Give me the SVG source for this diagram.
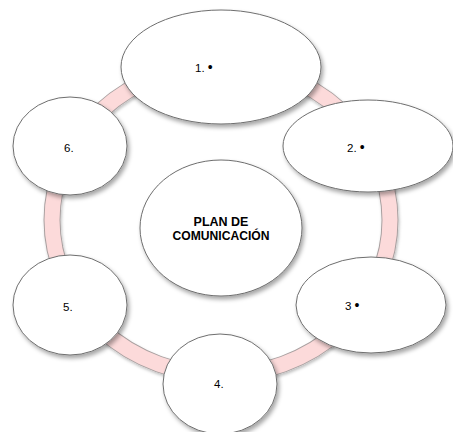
<svg xmlns="http://www.w3.org/2000/svg" width="453" height="432" viewBox="0 0 453 432">
  <defs>
    <filter id="shadow" x="-20%" y="-20%" width="150%" height="150%">
      <feDropShadow dx="2" dy="3" stdDeviation="2" flood-color="#000" flood-opacity="0.35"/>
    </filter>
    <filter id="ringShadow" x="-10%" y="-10%" width="130%" height="130%">
      <feDropShadow dx="1" dy="2" stdDeviation="1.5" flood-color="#000" flood-opacity="0.25"/>
    </filter>
  </defs>
  <style>
    .node { fill: #ffffff; stroke: #6e6e6e; stroke-width: 1; filter: url(#shadow); }
    .label { font-family: "Liberation Sans", Arial, sans-serif; font-size: 11.5px; fill: #000000; }
    .dot { font-size: 14px; }
    .title { font-family: "Liberation Sans", Arial, sans-serif; font-size: 12.5px; font-weight: bold; fill: #000000; text-anchor: middle; }
    .ring-edge { fill: none; stroke: #a9a0a0; stroke-width: 17; }
    .ring-fill { fill: none; stroke: #fcdada; stroke-width: 15; }
  </style>
  <rect width="453" height="432" fill="#ffffff"/>

  <!-- connecting ring behind the outer nodes -->
  <g id="connectors" filter="url(#ringShadow)">
    <ellipse class="ring-edge" cx="221" cy="220" rx="169" ry="155"/>
    <ellipse class="ring-fill" cx="221" cy="220" rx="169" ry="155"/>
  </g>

  <g id="center">
    <ellipse class="node" cx="221" cy="228" rx="81" ry="68"/>
    <text class="title" x="221" y="226">PLAN DE</text>
    <text class="title" x="221" y="240" textLength="97" lengthAdjust="spacingAndGlyphs">COMUNICACIÓN</text>
  </g>

  <g id="node1">
    <ellipse class="node" cx="221" cy="67" rx="100" ry="57"/>
    <text class="label" x="195" y="72">1. <tspan class="dot">•</tspan></text>
  </g>

  <g id="node2">
    <ellipse class="node" cx="368" cy="146" rx="85" ry="46"/>
    <text class="label" x="347" y="152">2. <tspan class="dot">•</tspan></text>
  </g>

  <g id="node3">
    <ellipse class="node" cx="371" cy="305" rx="75" ry="48"/>
    <text class="label" x="345" y="310">3 <tspan class="dot">•</tspan></text>
  </g>

  <g id="node4">
    <ellipse class="node" cx="220" cy="384" rx="57" ry="50"/>
    <text class="label" x="214" y="388">4.</text>
  </g>

  <g id="node5">
    <ellipse class="node" cx="70" cy="305" rx="57" ry="50"/>
    <text class="label" x="63" y="311">5.</text>
  </g>

  <g id="node6">
    <ellipse class="node" cx="70" cy="146" rx="57" ry="49"/>
    <text class="label" x="64" y="152">6.</text>
  </g>
</svg>
